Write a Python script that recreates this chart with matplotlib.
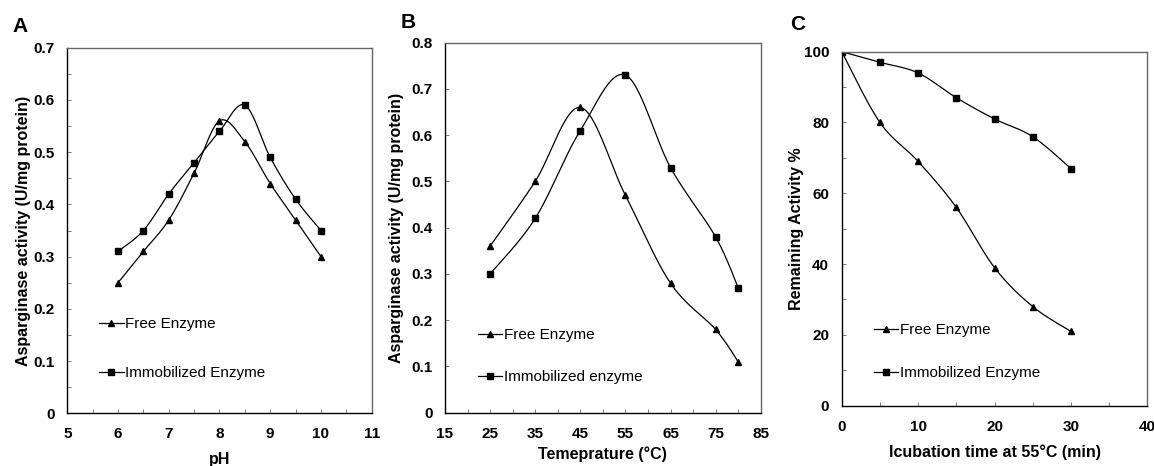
import numpy as np
import matplotlib
matplotlib.use("Agg")
import matplotlib.pyplot as plt
from matplotlib.ticker import MultipleLocator, FixedLocator

plt.rcParams['font.family'] = ['Liberation Sans', 'DejaVu Sans']

# ---------------- data ----------------
ph = [6, 6.5, 7, 7.5, 8, 8.5, 9, 9.5, 10]
ph_free = [0.25, 0.31, 0.37, 0.46, 0.56, 0.52, 0.44, 0.37, 0.30]
ph_immob = [0.31, 0.35, 0.42, 0.48, 0.54, 0.59, 0.49, 0.41, 0.35]
ph_ticks = [5, 6, 7, 8, 9, 10, 11]

temp = [25, 35, 45, 55, 65, 75, 80]
temp_free = [0.36, 0.50, 0.66, 0.47, 0.28, 0.18, 0.11]
temp_immob = [0.30, 0.42, 0.61, 0.73, 0.53, 0.38, 0.27]
temp_ticks = [15, 25, 35, 45, 55, 65, 75, 85]

time_min = [0, 5, 10, 15, 20, 25, 30]
time_free = [100, 80, 69, 56, 39, 28, 21]
time_immob = [100, 97, 94, 87, 81, 76, 67]
time_ticks = [0, 10, 20, 30, 40]

panel_letters = ["A", "B", "C"]


def smooth(x, y, xr, yr, n=30):
    """Catmull-Rom style smoothing (like Excel smoothed lines), in normalised space."""
    x = np.asarray(x, float); y = np.asarray(y, float)
    xs = (x - xr[0]) / (xr[1] - xr[0]); ys = (y - yr[0]) / (yr[1] - yr[0])
    P = np.column_stack([xs, ys])
    P = np.vstack([P[0], P, P[-1]])
    out = []
    for i in range(1, len(P) - 2):
        p0, p1, p2, p3 = P[i - 1], P[i], P[i + 1], P[i + 2]
        c1 = p1 + (p2 - p0) / 6.0
        c2 = p2 - (p3 - p1) / 6.0
        t = np.linspace(0, 1, n)[:, None]
        b = ((1 - t) ** 3) * p1 + 3 * ((1 - t) ** 2) * t * c1 + 3 * (1 - t) * t ** 2 * c2 + t ** 3 * p2
        out.append(b if i == 1 else b[1:])
    B = np.vstack(out)
    return B[:, 0] * (xr[1] - xr[0]) + xr[0], B[:, 1] * (yr[1] - yr[0]) + yr[0]


fig = plt.figure(figsize=(11.54, 4.66), dpi=100)

axes_rects = [
    [0.0583, 0.1131, 0.2638, 0.7845],
    [0.3856, 0.1144, 0.2736, 0.7940],
    [0.7294, 0.1294, 0.2648, 0.7597],
]

panels = [
    dict(x=ph, f=ph_free, m=ph_immob, xlim=(5, 11), ylim=(0, 0.7), xt=ph_ticks, xmin=0.5, ymaj=0.1, ymin=0.05,
         xlabel="pH", ylabel="Asparginase activity (U/mg protein)",
         labels=["Free Enzyme", "Immobilized Enzyme"], yfmt=lambda v: "0" if v == 0 else f"{v:.1f}",
         leg=(0.085, 0.28), lsp=2.3, xlabelpad=8, ylabelpad=2),
    dict(x=temp, f=temp_free, m=temp_immob, xlim=(15, 85), ylim=(0, 0.8), xt=temp_ticks, xmin=5, ymaj=0.1, ymin=None,
         xlabel="Temeprature (°C)", ylabel="Asparginase activity (U/mg protein)",
         labels=["Free Enzyme", "Immobilized enzyme"], yfmt=lambda v: "0" if v == 0 else f"{v:.1f}",
         leg=(0.085, 0.245), lsp=1.85, xlabelpad=4, ylabelpad=5),
    dict(x=time_min, f=time_free, m=time_immob, xlim=(0, 40), ylim=(0, 100), xt=time_ticks, xmin=5, ymaj=20, ymin=10,
         xlabel="Icubation time at 55°C (min)", ylabel="Remaining Activity %",
         labels=["Free Enzyme", "Immobilized Enzyme"], yfmt=lambda v: f"{v:.0f}",
         leg=(0.085, 0.25), lsp=1.9, xlabelpad=8, ylabelpad=0),
]

for rect, p, letter in zip(axes_rects, panels, panel_letters):
    ax = fig.add_axes(rect)
    xf, yf = smooth(p["x"], p["f"], p["xlim"], p["ylim"])
    xm, ym = smooth(p["x"], p["m"], p["xlim"], p["ylim"])
    ax.plot(xf, yf, color="black", lw=0.9)
    ax.plot(xm, ym, color="black", lw=0.9)
    ax.plot(p["x"], p["f"], ls="none", marker="^", ms=5, color="black")
    ax.plot(p["x"], p["m"], ls="none", marker="s", ms=5, color="black")
    # legend proxies
    h1, = ax.plot([], [], color="black", lw=0.9, marker="^", ms=5)
    h2, = ax.plot([], [], color="black", lw=0.9, marker="s", ms=5)
    ax.legend([h1, h2], p["labels"], loc="upper left", bbox_to_anchor=p["leg"], frameon=False,
              handlelength=1.6, handletextpad=0.1, labelspacing=p["lsp"], borderaxespad=0,
              prop=dict(size=11))
    ax.set_xlim(*p["xlim"]); ax.set_ylim(*p["ylim"])
    ax.xaxis.set_major_locator(FixedLocator(p["xt"]))
    ax.xaxis.set_minor_locator(MultipleLocator(p["xmin"]))
    ax.yaxis.set_major_locator(MultipleLocator(p["ymaj"]))
    if p["ymin"]:
        ax.yaxis.set_minor_locator(MultipleLocator(p["ymin"]))
    yt = ax.get_yticks()
    ax.set_yticks(yt)
    ax.set_yticklabels([p["yfmt"](round(v, 3)) for v in yt])
    ax.set_ylim(*p["ylim"])
    ax.tick_params(which="both", direction="in", length=3, width=0.6, colors="#666666",
                   labelcolor="black", labelsize=11)
    ax.tick_params(axis="x", pad=10)
    ax.tick_params(axis="y", pad=9)
    for lab in ax.get_xticklabels() + ax.get_yticklabels():
        lab.set_fontweight("bold")
    ax.spines["left"].set_color("black"); ax.spines["bottom"].set_color("black")
    ax.spines["top"].set_color("#666666"); ax.spines["right"].set_color("#666666")
    for s in ax.spines.values():
        s.set_linewidth(1.0)
    ax.set_xlabel(p["xlabel"], fontsize=11.5, fontweight="bold", labelpad=p["xlabelpad"])
    ax.set_ylabel(p["ylabel"], fontsize=11.5, fontweight="bold", labelpad=p["ylabelpad"])

fig.text(12 / 1154, 1 - 26 / 466, "A", fontsize=15, fontweight="bold", va="center", ha="left")
fig.text(401 / 1154, 1 - 22 / 466, "B", fontsize=15, fontweight="bold", va="center", ha="left")
fig.text(790 / 1154, 1 - 25 / 466, "C", fontsize=15, fontweight="bold", va="center", ha="left")

fig.savefig("out.png", dpi=100)
